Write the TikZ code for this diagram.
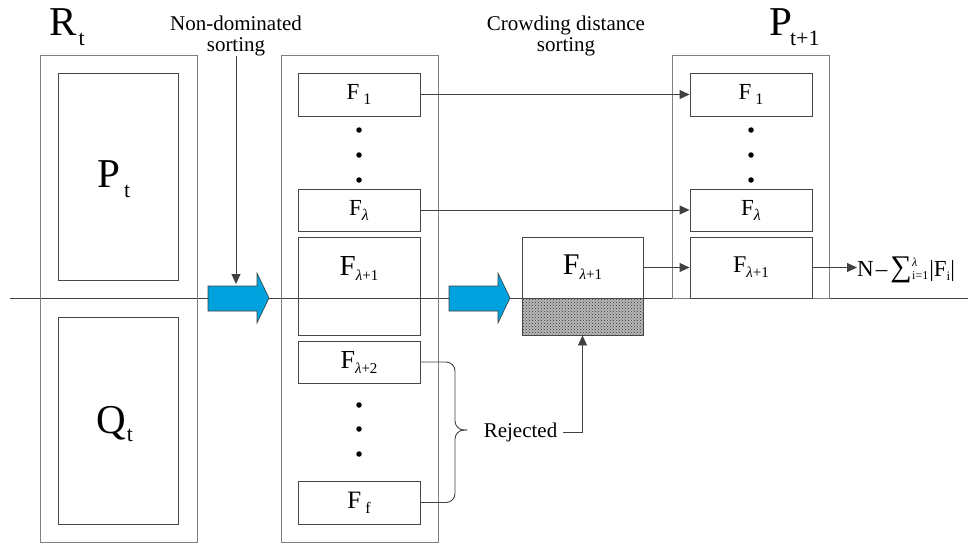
\documentclass[tikz,border=0pt]{standalone}
\usepackage{fontspec}
\setmainfont{Liberation Serif}
\usetikzlibrary{arrows.meta,patterns}
\definecolor{blu}{RGB}{0,162,222}
\definecolor{lin}{RGB}{64,64,64}
\newcommand\Flab[4]{{\fontsize{#1}{#1}\selectfont F}\hspace{#4}\raisebox{-5pt}{\fontsize{#2}{#2}\selectfont #3}}
\newcommand\lam{{\itshape λ}}
\newcommand\biglab[4]{{\fontsize{41}{41}\selectfont #1}\hspace{#3}\raisebox{-#4}{\fontsize{22}{22}\selectfont #2}}
\begin{document}
\begin{tikzpicture}[x=1pt,y=-1pt,
  outer/.style={draw=black!50,line width=1pt,inner sep=0,minimum width=157pt},
  inbox/.style={draw=black!72,line width=0.9pt,inner sep=0},
  arr/.style={draw=lin,line width=0.9pt,-{Triangle[length=10pt,width=9pt]}},
  plainline/.style={draw=lin,line width=0.9pt},
  lbl/.style={font=\fontsize{21}{21}\selectfont,align=center,inner sep=0},
  dotn/.style={circle,fill=black,inner sep=0,minimum size=5.5pt},
  bluearr/.style={fill=blu,draw=lin,line width=0.6pt}]
\useasboundingbox (0,0) rectangle (968,544);

% horizontal line
\coordinate (hl1) at (10,298);
\coordinate (hl2) at (968,298);
\draw[draw=lin,line width=1pt] (hl1) -- (hl2);

% R_t block
\node[outer,minimum height=487pt] (R) at (118.5,298.5) {};
\node[inbox,minimum width=120pt,minimum height=207pt] (Pbox) at (118,176.5) {};
\node[inbox,minimum width=120pt,minimum height=207pt] (Qbox) at (118,420.5) {};
\node[inner sep=0,anchor=base west] (Rl) at (49,35) {\biglab{R}{t}{2pt}{10pt}};
\node[inner sep=0,anchor=base west] (Pl) at (97,187) {\biglab{P}{t}{4pt}{10pt}};
\node[inner sep=0,anchor=base west] (Ql) at (96,433) {\biglab{Q}{t}{1pt}{8pt}};

% middle block
\node[outer,minimum height=487pt] (M) at (359.5,298.5) {};
\node[inbox,minimum width=122pt,minimum height=43pt] (F1) at (359,94.5) {\Flab{23}{16}{1}{4pt}};
\node[inbox,minimum width=122pt,minimum height=42pt] (Fl) at (359,210) {\Flab{23}{16}{\lam}{0pt}};
\node[inbox,minimum width=122pt,minimum height=98pt] (Fl1) at (359,286) {};
\node[inner sep=0] (Fl1t) at (359,268) {\Flab{29}{15}{\lam+1}{0pt}};
\node[inbox,minimum width=122pt,minimum height=42pt] (Fl2) at (359,362) {\Flab{26}{15}{\lam+2}{0pt}};
\node[inbox,minimum width=122pt,minimum height=43pt] (Ff) at (359,502.5) {\Flab{25}{16}{f}{4pt}};
\node[dotn] (d1) at (359,130) {};
\node[dotn] (d2) at (359,155) {};
\node[dotn] (d3) at (359,180) {};
\node[dotn] (d4) at (359,405) {};
\node[dotn] (d5) at (359,429) {};
\node[dotn] (d6) at (359,454) {};

% right block P_{t+1}
\node[outer,minimum height=243pt] (Pn) at (750.5,176.5) {};
\node[inbox,minimum width=122pt,minimum height=43pt] (RF1) at (751,94.5) {\Flab{23}{16}{1}{4pt}};
\node[inbox,minimum width=122pt,minimum height=42pt] (RFl) at (751,210) {\Flab{23}{16}{\lam}{0pt}};
\node[inbox,minimum width=122pt,minimum height=61pt] (RFl1) at (751,267.5) {\Flab{24}{15}{\lam+1}{0pt}};
\node[dotn] (d7) at (751,130) {};
\node[dotn] (d8) at (751,155) {};
\node[dotn] (d9) at (751,180) {};
\node[inner sep=0,anchor=base west] (Pnl) at (769,35) {\biglab{P}{t+1}{-2pt}{10pt}};

% crowding block
\node[inbox,minimum width=121pt,minimum height=61pt] (CF) at (582.5,267.5) {\Flab{30}{15}{\lam+1}{0pt}};
\node[inbox,minimum width=121pt,minimum height=37pt,preaction={fill=black!28},pattern=crosshatch dots,pattern color=black!80] (hatch) at (582.5,316.5) {};

% titles
\node[lbl] (nds) at (236,35.7) {Non-dominated\\sorting};
\node[lbl] (cds) at (566,35.7) {Crowding distance\\sorting};

% blue arrows
\draw[bluearr] (208,286) -- (257,286) -- (257,273) -- (269,298) -- (257,323) -- (257,311) -- (208,311) -- cycle;
\draw[bluearr] (449,286) -- (498,286) -- (498,273) -- (510,298) -- (498,323) -- (498,311) -- (449,311) -- cycle;
\coordinate (ba1) at (236,284);
\draw[arr] (nds.south) -- (ba1);

% connectors
\draw[arr] (F1.east) -- (RF1.west);
\draw[arr] (Fl.east) -- (RFl.west);
\draw[arr] (CF.east) -- (RFl1.west);

% formula
\node[anchor=base west,inner sep=0,font=\fontsize{23}{23}\selectfont] (form) at (857,276)
  {N\hspace{2pt}–\hspace{3pt}{\fontsize{30}{30}\selectfont ∑}\hspace{0.5pt}\makebox[0pt][l]{\raisebox{10pt}{\fontsize{12}{12}\selectfont\itshape λ}}\raisebox{-3pt}{\fontsize{12}{12}\selectfont i=1}\hspace{1pt}|F\raisebox{-4pt}{\fontsize{13}{13}\selectfont i}|};
\draw[arr] (RFl1.east) -- (RFl1.east -| form.west);

% brace and rejected
\coordinate (bt) at (467,430);
\draw[plainline,rounded corners=9pt] (Fl2.east) -- (455,362) -- (455,430) -- (bt);
\draw[plainline,rounded corners=9pt] (bt) -- (455,430) -- (455,502.5) -- (Ff.east);
\node[font=\fontsize{21}{21}\selectfont,inner sep=6pt,anchor=base] (rej) at (520.5,437) {Rejected};
\draw[arr] (rej.east) -| (hatch.south);
\end{tikzpicture}
\end{document}
